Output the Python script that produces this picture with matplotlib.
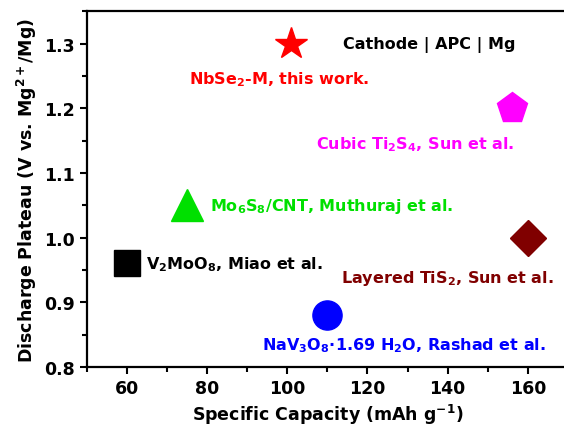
import matplotlib
matplotlib.use("Agg")
import matplotlib.pyplot as plt
from matplotlib.ticker import MultipleLocator

plt.rcParams['font.family'] = ['DejaVu Sans']
plt.rcParams['font.weight'] = 'bold'
plt.rcParams['mathtext.fontset'] = 'dejavusans'
plt.rcParams['mathtext.default'] = 'bf'

# capacity (mAh/g) and plateau voltage (V) for each cathode
capacidad = [101, 156, 75, 60, 160, 110]
voltaje = [1.30, 1.20, 1.05, 0.96, 1.00, 0.88]
marcadores = ['*', 'p', '^', 's', 'D', 'o']
tamanos = [24, 23, 23, 19, 18, 21]
colores = ['#ff0000', '#ff00ff', '#00e000', '#000000', '#800000', '#0000ff']
etiquetas = [
    r'NbSe$_2$-M, this work.',
    r'Cubic Ti$_2$S$_4$, Sun et al.',
    r'Mo$_6$S$_8$/CNT, Muthuraj et al.',
    r'V$_2$MoO$_8$, Miao et al.',
    r'Layered TiS$_2$, Sun et al.',
    r'NaV$_3$O$_8$$\cdot$1.69 H$_2$O, Rashad et al.',
]
# where each label sits (data coords) and its alignment
pos_etiquetas = [(98, 1.245, 'center'), (132, 1.145, 'center'), (80.8, 1.05, 'left'),
                 (64.8, 0.96, 'left'), (140, 0.938, 'center'), (129, 0.834, 'center')]

fig = plt.figure(figsize=(5.64, 4.35), dpi=100)
ax = fig.add_axes([0.154, 0.154, 0.853, 0.818])

for x, y, m, s, c in zip(capacidad, voltaje, marcadores, tamanos, colores):
    ax.plot(x, y, marker=m, markersize=s, color=c, linestyle='none')

for (tx, ty, ha), txt, c in zip(pos_etiquetas, etiquetas, colores):
    ax.text(tx, ty, txt, color=c, fontsize=11.5, fontweight='bold', ha=ha, va='center')

ax.text(157, 1.30, 'Cathode | APC | Mg', color='black', fontsize=11.5,
        fontweight='bold', ha='right', va='center')

ax.set_xlim(50, 170)
ax.set_ylim(0.8, 1.35)
ax.xaxis.set_major_locator(MultipleLocator(20))
ax.xaxis.set_minor_locator(MultipleLocator(10))
ax.yaxis.set_major_locator(MultipleLocator(0.1))
ax.yaxis.set_minor_locator(MultipleLocator(0.05))
ax.yaxis.set_major_formatter(plt.FormatStrFormatter('%.1f'))
ax.tick_params(which='both', direction='out', width=1.5, top=False, right=False,
               labelsize=12.5)
ax.tick_params(which='major', length=5)
ax.tick_params(which='minor', length=3.5)
for sp in ax.spines.values():
    sp.set_linewidth(1.6)

ax.set_xlabel(r'Specific Capacity (mAh g$^{-1}$)', fontsize=12.5, fontweight='bold')
ax.set_ylabel(r'Discharge Plateau (V vs. Mg$^{2+}$/Mg)', fontsize=12.5, fontweight='bold')

fig.savefig('out.png', dpi=100)
